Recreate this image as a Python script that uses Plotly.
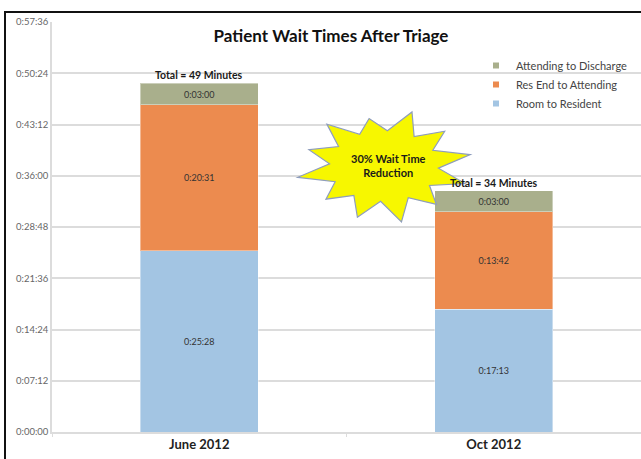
import plotly.graph_objects as go
import numpy as np

# data (h:mm:ss)
months = ["June 2012", "Oct 2012"]
room_to_resident = ["0:25:28", "0:17:13"]
res_end_to_attending = ["0:20:31", "0:13:42"]
attending_to_discharge = ["0:03:00", "0:03:00"]
totals = ["Total = 49 Minutes", "Total = 34 Minutes"]
series_names = ["Room to Resident", "Res End to Attending", "Attending to Discharge"]
colors = ["#A3C5E3", "#EC8B4F", "#A9AF8C"]
tick_labels = ["0:00:00", "0:07:12", "0:14:24", "0:21:36", "0:28:48",
               "0:36:00", "0:43:12", "0:50:24", "0:57:36"]


def to_sec(s):
    h, m, sec = [int(p) for p in s.split(":")]
    return h * 3600 + m * 60 + sec


tick_vals = [to_sec(t) for t in tick_labels]
FONT = "Lato"

# pixel layout of the plot area (641x459 canvas)
W, H = 641, 459
L, R, T, B = 52, 641, 22, 432


def px(x):
    return (x - L) / (R - L)


def py(y):
    return (B - y) / (B - T)


fig = go.Figure()
stack = [room_to_resident, res_end_to_attending, attending_to_discharge]
for name, vals, col in zip(series_names, stack, colors):
    fig.add_trace(go.Bar(
        x=months, y=[to_sec(v) for v in vals], name=name,
        text=vals, textposition="inside", insidetextanchor="middle",
        textfont=dict(family=FONT, size=9, color="#333333"),
        marker=dict(color=col, line=dict(color="rgba(255,255,255,0.4)", width=1)),
        width=0.4, showlegend=False, hoverinfo="skip"))
    # small square legend markers
    fig.add_trace(go.Scatter(
        x=[None], y=[None], mode="markers", name=name,
        marker=dict(symbol="square", size=6, color=col)))

# totals above bars
tot_secs = [sum(to_sec(s[i]) for s in stack) for i in range(len(months))]
for m, t, lab in zip(months, tot_secs, totals):
    fig.add_annotation(x=m, y=t, text="<b>" + lab + "</b>", showarrow=False,
                       yanchor="bottom", yshift=0,
                       font=dict(family=FONT, size=10.5, color="#1a1a1a"))

# starburst callout
cx, cy, rx, ry = 384, 166, 88, 57
n_tips = 12
tip_r = [1.0, 0.92, 1.0, 0.85, 0.98, 0.9, 1.0, 0.88, 0.95, 1.0, 0.9, 0.97]
pts = []
for i in range(n_tips * 2):
    a = np.pi * i / n_tips + 0.2
    r = tip_r[i // 2] if i % 2 == 0 else 0.62
    pts.append((cx + rx * r * np.cos(a), cy - ry * r * np.sin(a)))
path = "M " + " L ".join(f"{px(x):.4f},{py(y):.4f}" for x, y in pts) + " Z"
fig.add_shape(type="path", xref="paper", yref="paper", path=path,
              fillcolor="#F7F700", line=dict(color="#8E9DBE", width=1.2))
fig.add_annotation(xref="paper", yref="paper", x=px(388), y=py(165),
                   text="<b>30% Wait Time<br>Reduction</b>", showarrow=False,
                   font=dict(family=FONT, size=11, color="#1a1a1a"))

# outer frame (cut by the image edge)
fig.add_shape(type="rect", xref="paper", yref="paper",
              x0=px(5), y0=py(520), x1=px(720), y1=py(12),
              line=dict(color="#111111", width=2), layer="above")

fig.update_layout(
    width=W, height=H,
    margin=dict(l=L, r=W - R, t=T, b=H - B),
    paper_bgcolor="white", plot_bgcolor="white",
    barmode="stack", bargap=0.6,
    title=dict(text="<b>Patient Wait Times After Triage</b>", x=331 / W, xanchor="center",
               y=1 - 36 / H, yanchor="middle",
               font=dict(family=FONT, size=17, color="#111111")),
    legend=dict(x=px(476), y=py(51), xanchor="left", yanchor="top",
                traceorder="reversed", bgcolor="rgba(0,0,0,0)",
                font=dict(family=FONT, size=11, color="#444444"),
                itemwidth=30, tracegroupgap=0),
    font=dict(family=FONT),
)
fig.update_yaxes(range=[0, tick_vals[-1]], tickvals=tick_vals, ticktext=tick_labels,
                 showgrid=True, gridcolor="#DCDCDC", gridwidth=1.5,
                 showline=True, linecolor="#DCDCDC", linewidth=1.5,
                 zeroline=False, ticks="", ticklen=0,
                 tickfont=dict(family=FONT, size=9.5, color="#666666"))
fig.update_xaxes(showgrid=False, showline=True, linecolor="#DCDCDC", linewidth=1.5,
                 ticks="outside", tickson="boundaries", ticklen=3, tickcolor="#DCDCDC",
                 tickfont=dict(family=FONT, size=13, color="#222222"),
                 tickprefix="<b>", ticksuffix="</b>")

fig.write_html("out.html", config={"displayModeBar": False},
               post_script="document.body.style.margin='0';")
